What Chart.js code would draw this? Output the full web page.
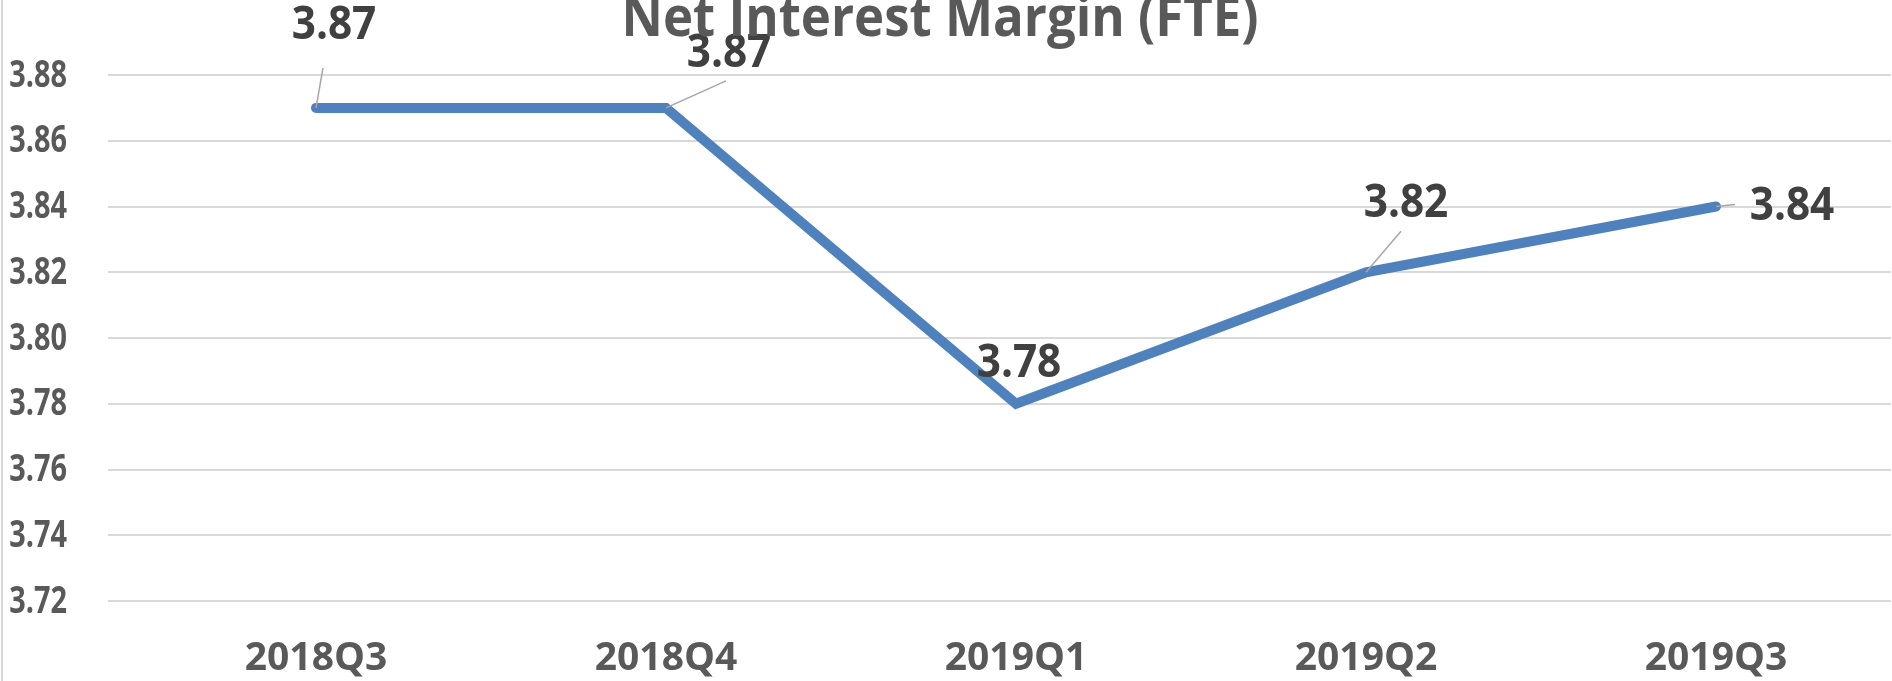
<!DOCTYPE html>
<html>
<head>
<meta charset="utf-8">
<script src="https://cdn.jsdelivr.net/npm/chart.js@4"></script>
<style>
  html, body { margin: 0; padding: 0; background: #fff; }
  #wrap { position: relative; width: 1892px; height: 681px; overflow: hidden; }
  #wrap::before { content: ''; position: absolute; left: 1px; top: 0; bottom: 0; border-left: 2px solid #d9d9d9; z-index: 1; }
</style>
</head>
<body>
<div id="wrap"><canvas id="chart" width="1892" height="681"></canvas></div>
<script>
const chartTitle = 'Net Interest Margin (FTE)';
const quarters = ['2018Q3', '2018Q4', '2019Q1', '2019Q2', '2019Q3'];
const nimValues = [3.87, 3.87, 3.78, 3.82, 3.84];
const yTicks = [3.72, 3.74, 3.76, 3.78, 3.80, 3.82, 3.84, 3.86, 3.88];

// where each data label sits relative to its point, plus leader line end (null = none)
const labelOffsets = [
  { dx: 18, dy: -82, lx: 7, ly: -40 },
  { dx: 63, dy: -54, lx: 60, ly: -27 },
  { dx: 3, dy: -40, lx: null, ly: null },
  { dx: 40, dy: -69, lx: 35, ly: -41 },
  { dx: 76, dy: 0, lx: 19, ly: -2 },
];

const FONT = '"Open Sans", "Liberation Sans", sans-serif';

// the source uses a tall, narrow face; squeeze Open Sans horizontally to get close
function squeezedText(ctx, text, x, y, sx, align) {
  ctx.save();
  ctx.scale(sx, 1);
  ctx.textAlign = align;
  ctx.fillText(text, x / sx, y);
  ctx.restore();
}

const textLayer = {
  id: 'textLayer',
  afterDatasetsDraw(chart) {
    const ctx = chart.ctx;
    const meta = chart.getDatasetMeta(0);
    const yScale = chart.scales.y;
    ctx.save();

    // y axis labels
    ctx.fillStyle = '#595959';
    ctx.font = `bold 37px ${FONT}`;
    ctx.textBaseline = 'middle';
    yTicks.forEach(v => {
      squeezedText(ctx, v.toFixed(2), 67, yScale.getPixelForValue(v) + 1, 0.78, 'right');
    });

    // data labels with leader lines
    meta.data.forEach((pt, i) => {
      const off = labelOffsets[i];
      if (off.lx !== null) {
        ctx.strokeStyle = '#a6a6a6';
        ctx.lineWidth = 1.5;
        ctx.beginPath();
        ctx.moveTo(pt.x, pt.y);
        ctx.lineTo(pt.x + off.lx, pt.y + off.ly);
        ctx.stroke();
      }
      ctx.fillStyle = '#404040';
      ctx.font = `bold 47px ${FONT}`;
      ctx.textBaseline = 'middle';
      squeezedText(ctx, nimValues[i].toFixed(2), pt.x + off.dx, pt.y + off.dy, 0.9, 'center');
    });

    // title, cut off at the top like the source image
    ctx.fillStyle = '#595959';
    ctx.font = `bold 56px ${FONT}`;
    ctx.textBaseline = 'alphabetic';
    squeezedText(ctx, chartTitle, 940, 36, 0.91, 'center');
    ctx.restore();
  },
};

new Chart(document.getElementById('chart'), {
  type: 'line',
  data: {
    labels: quarters,
    datasets: [{
      data: nimValues,
      borderColor: '#4f81bd',
      borderWidth: 10,
      borderCapStyle: 'round',
      borderJoinStyle: 'miter',
      pointRadius: 0,
      tension: 0,
    }],
  },
  options: {
    responsive: false,
    animation: false,
    events: [],
    layout: { padding: { top: 75, right: 1, left: 0, bottom: 0 } },
    plugins: { legend: { display: false }, title: { display: false }, tooltip: { enabled: false } },
    scales: {
      x: {
        offset: true,
        grid: { display: false, drawTicks: false },
        border: { display: false },
        ticks: { color: '#595959', font: { family: FONT, size: 39, weight: 'bold' }, padding: 34 },
        afterFit(scale) { scale.height = 80; },
      },
      y: {
        min: 3.72,
        max: 3.88,
        afterBuildTicks(scale) { scale.ticks = yTicks.map(v => ({ value: v })); },
        grid: { color: '#d9d9d9', lineWidth: 2, drawTicks: true, tickLength: 33, tickColor: '#d9d9d9' },
        border: { display: false },
        ticks: { display: false },
        afterFit(scale) { scale.width = 141; },
      },
    },
  },
  plugins: [textLayer],
});
</script>
</body>
</html>
